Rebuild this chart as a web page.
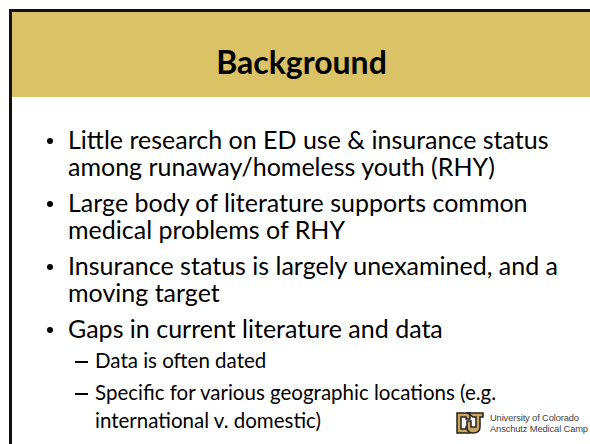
<!DOCTYPE html>
<html>
<head>
<meta charset="utf-8">
<script src="https://cdn.jsdelivr.net/npm/chart.js@4.4.0/dist/chart.umd.min.js"></script>
<style>
  html, body { margin: 0; padding: 0; background: #fff; }
  body { width: 590px; height: 444px; overflow: hidden; position: relative; font-family: Lato, "Open Sans", sans-serif; color: #000; }
  #slide { position: absolute; left: 9px; top: 9px; width: 600px; height: 460px; border-left: 3px solid #111; border-top: 3px solid #111; background: #fff; }
  #head { height: 85px; background: #dac266; position: relative; }
  #head h1 { margin: 0; position: absolute; left: 0; right: 21px; top: 30px; text-align: center; font-size: 32px; font-weight: bold; line-height: 40px; }
  .line { display: block; height: 27px; }
  .item { position: absolute; left: 68px; font-size: 25px; line-height: 27px; white-space: nowrap; }
  .item::before { content: ""; position: absolute; left: -21px; top: 12px; width: 6px; height: 6px; border-radius: 50%; background: #000; }
  .sub { position: absolute; left: 95px; font-size: 20.5px; line-height: 28px; white-space: nowrap; }
  .sub .line { height: 28px; }
  .sub::before { content: ""; position: absolute; left: -20px; top: 15px; width: 13px; height: 2px; background: #000; }
  #logo { position: absolute; left: 455px; top: 411px; width: 135px; height: 33px; overflow: hidden; }
  #logo .txt { position: absolute; left: 35px; top: 1px; font-family: "Liberation Sans", Arial, sans-serif; font-size: 9.4px; line-height: 11px; color: #444; white-space: nowrap; letter-spacing: -0.15px; }
  canvas { display: none; }
</style>
</head>
<body>
<div id="slide">
  <div id="head"><h1 id="title"></h1></div>
</div>
<div id="items"></div>
<div id="logo">
  <svg width="30" height="24" viewBox="0 0 30 24">
    <path d="M2 2h13v6h-4v-2h-5v12h5v-2h4v6h-13z" fill="#c9a45c" stroke="#222" stroke-width="1.5"/>
    <path d="M13 2h15v4h-3v10c0 4-3 6-7 6s-6-2-6-6v-6h4v6h5v-10h-3z" fill="#c9a45c" stroke="#222" stroke-width="1.5"/>
  </svg>
  <div class="txt">University of Colorado<br>Anschutz Medical Camp</div>
</div>
<canvas id="c"></canvas>
<script>
const title = "Background";
const bullets = [
  ["Little research on ED use & insurance status", "among runaway/homeless youth (RHY)"],
  ["Large body of literature supports common", "medical problems of RHY"],
  ["Insurance status is largely unexamined, and a", "moving target"],
  ["Gaps in current literature and data"]
];
const subBullets = [
  ["Data is often dated"],
  ["Specific for various geographic locations (e.g.", "international v. domestic)"]
];
const bulletTops = [126, 189, 252, 315];
const subTops = [346, 378];

document.getElementById("title").textContent = title;
let box = document.getElementById("items");
const addBlock = (cls, lines, top) => {
  let d = document.createElement("div");
  d.className = cls;
  d.style.top = top + "px";
  for (let t of lines) {
    let s = document.createElement("span");
    s.className = "line";
    s.textContent = t;
    d.appendChild(s);
  }
  box.appendChild(d);
};
bullets.forEach((lines, i) => addBlock("item", lines, bulletTops[i]));
subBullets.forEach((lines, i) => addBlock("sub", lines, subTops[i]));
</script>
</body>
</html>
